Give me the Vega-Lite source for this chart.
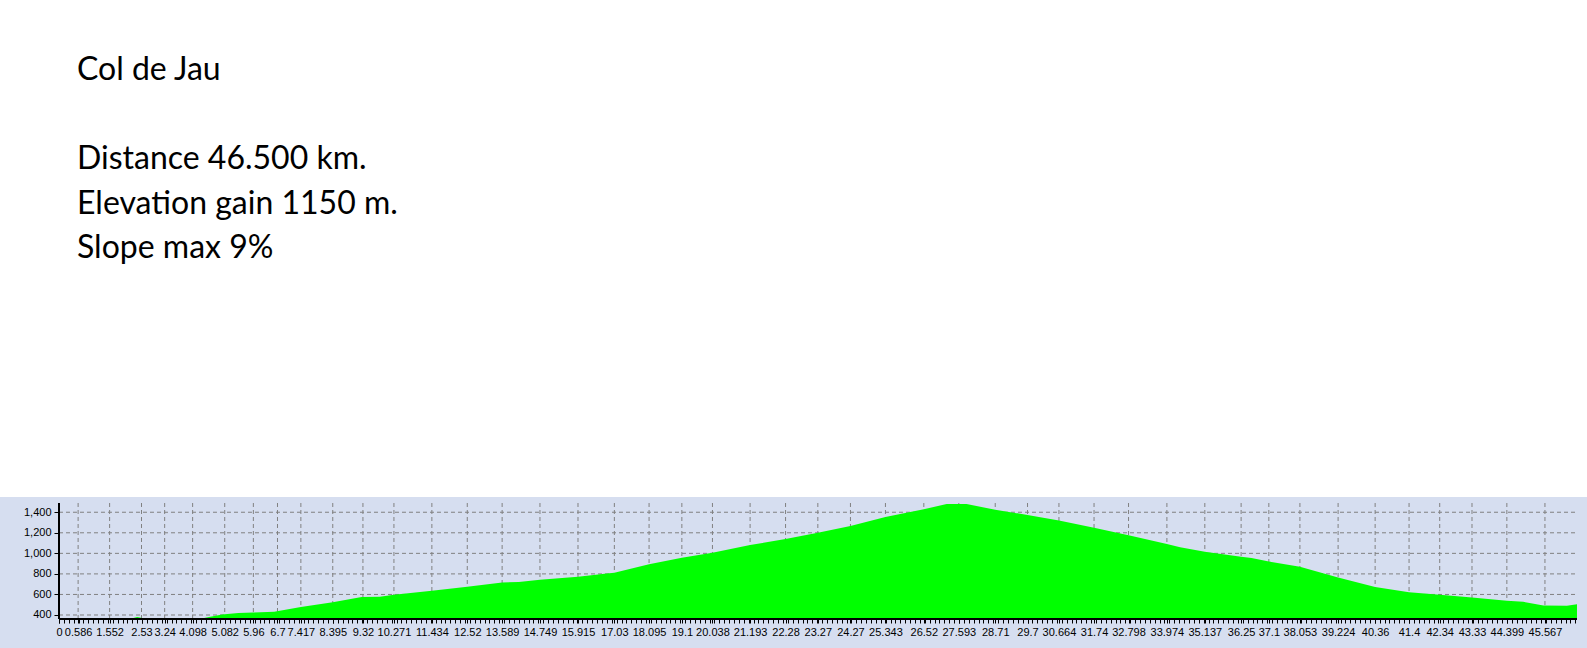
{
  "$schema": "https://vega.github.io/schema/vega-lite/v6.json",
  "width": 1587,
  "height": 151,
  "autosize": {"type": "none"},
  "padding": {"top": 497, "left": 0, "right": 0, "bottom": 0},
  "background": "white",
  "view": {"fill": "#D6DEF0", "stroke": null},
  "title": {
    "text": ["Col de Jau", "\u200b", "Distance 46.500 km.", "Elevation gain 1150 m.", "Slope max 9%"],
    "anchor": "start",
    "frame": "group",
    "orient": "top",
    "offset": 206.7,
    "baseline": "alphabetic",
    "dx": 77,
    "lineHeight": 44.6,
    "font": "Lato",
    "fontSize": 32,
    "fontWeight": "normal",
    "color": "#000000"
  },
  "resolve": {"axis": {"x": "independent", "y": "independent"}},
  "layer": [
    {
      "data": {"values": [{"v": 400}, {"v": 600}, {"v": 800}, {"v": 1000}, {"v": 1200}, {"v": 1400}]},
      "mark": {"type": "rule", "color": "#808080", "strokeDash": [4, 3], "strokeWidth": 1},
      "encoding": {
        "y": {
          "field": "v", "type": "quantitative",
          "scale": {"domain": [78.7, 1548.4], "nice": false, "zero": false},
          "axis": {
            "orient": "left", "offset": -59, "title": null,
            "values": [400, 600, 800, 1000, 1200, 1400], "format": ",d",
            "domain": false, "grid": false, "ticks": true, "tickSize": 5, "tickColor": "#000000", "tickWidth": 1,
            "labels": true, "labelPadding": 3, "labelFont": "Liberation Sans", "labelFontSize": 11, "labelColor": "#000000",
            "labelFlush": false, "labelOverlap": false, "zindex": 1
          }
        },
        "x": {"datum": 0, "type": "quantitative", "scale": {"domain": [-1.80926, 46.8568], "nice": false, "zero": false}, "axis": null},
        "x2": {"datum": 46.55}
      }
    },
    {
      "data": {"values": [
        {"d": 0.586}, {"d": 1.552}, {"d": 2.53}, {"d": 3.24}, {"d": 4.098}, {"d": 5.082}, {"d": 5.96}, {"d": 6.7}, {"d": 7.417}, {"d": 8.395},
        {"d": 9.32}, {"d": 10.271}, {"d": 11.434}, {"d": 12.52}, {"d": 13.589}, {"d": 14.749}, {"d": 15.915}, {"d": 17.03}, {"d": 18.095}, {"d": 19.1},
        {"d": 20.038}, {"d": 21.193}, {"d": 22.28}, {"d": 23.27}, {"d": 24.27}, {"d": 25.343}, {"d": 26.52}, {"d": 27.593}, {"d": 28.71}, {"d": 29.7},
        {"d": 30.664}, {"d": 31.74}, {"d": 32.798}, {"d": 33.974}, {"d": 35.137}, {"d": 36.25}, {"d": 37.1}, {"d": 38.053}, {"d": 39.224}, {"d": 40.36},
        {"d": 41.4}, {"d": 42.34}, {"d": 43.33}, {"d": 44.399}, {"d": 45.567}
      ]},
      "mark": {"type": "rule", "color": "#808080", "strokeDash": [4, 3], "strokeWidth": 1},
      "encoding": {
        "x": {"field": "d", "type": "quantitative", "scale": {"domain": [-1.80926, 46.8568], "nice": false, "zero": false}, "axis": null},
        "y": {"datum": 361, "type": "quantitative", "scale": {"domain": [78.7, 1548.4], "nice": false, "zero": false}, "axis": null},
        "y2": {"datum": 1490}
      }
    },
    {
      "data": {"values": [
        {"km": 0, "elev": 362}, {"km": 0.15, "elev": 366}, {"km": 0.35, "elev": 366}, {"km": 0.5, "elev": 362},
        {"km": 0.9, "elev": 362}, {"km": 1.05, "elev": 367}, {"km": 1.2, "elev": 362}, {"km": 1.7, "elev": 362},
        {"km": 1.85, "elev": 366}, {"km": 2.25, "elev": 368}, {"km": 2.4, "elev": 380}, {"km": 2.55, "elev": 370},
        {"km": 3.0, "elev": 366}, {"km": 3.4, "elev": 365}, {"km": 3.5, "elev": 361}, {"km": 4.3, "elev": 361},
        {"km": 4.6, "elev": 380}, {"km": 5.0, "elev": 405}, {"km": 5.5, "elev": 420}, {"km": 5.96, "elev": 424},
        {"km": 6.6, "elev": 432}, {"km": 7.417, "elev": 478}, {"km": 8.395, "elev": 523}, {"km": 9.28, "elev": 575},
        {"km": 9.84, "elev": 578}, {"km": 10.271, "elev": 598}, {"km": 11.434, "elev": 636}, {"km": 12.52, "elev": 676},
        {"km": 13.589, "elev": 716}, {"km": 14.1, "elev": 722}, {"km": 14.749, "elev": 742}, {"km": 15.915, "elev": 772},
        {"km": 16.8, "elev": 804}, {"km": 17.03, "elev": 812}, {"km": 18.095, "elev": 895}, {"km": 19.1, "elev": 958},
        {"km": 20.038, "elev": 1006}, {"km": 21.193, "elev": 1081}, {"km": 22.28, "elev": 1140}, {"km": 23.27, "elev": 1201},
        {"km": 24.27, "elev": 1266}, {"km": 25.343, "elev": 1354}, {"km": 26.52, "elev": 1430}, {"km": 27.22, "elev": 1481},
        {"km": 27.83, "elev": 1481}, {"km": 28.71, "elev": 1425}, {"km": 29.7, "elev": 1373}, {"km": 30.664, "elev": 1320},
        {"km": 31.74, "elev": 1250}, {"km": 32.798, "elev": 1175}, {"km": 33.974, "elev": 1090}, {"km": 34.38, "elev": 1060},
        {"km": 35.137, "elev": 1016}, {"km": 36.25, "elev": 967}, {"km": 36.57, "elev": 955}, {"km": 37.1, "elev": 920},
        {"km": 38.053, "elev": 870}, {"km": 39.224, "elev": 765}, {"km": 40.36, "elev": 672}, {"km": 41.4, "elev": 622},
        {"km": 42.34, "elev": 596}, {"km": 43.33, "elev": 571}, {"km": 44.399, "elev": 539}, {"km": 44.9, "elev": 528},
        {"km": 45.52, "elev": 492}, {"km": 46.24, "elev": 491}, {"km": 46.55, "elev": 505}
      ]},
      "mark": {"type": "area", "color": "#00FF00", "opacity": 1, "interpolate": "linear"},
      "encoding": {
        "x": {
          "field": "km", "type": "quantitative",
          "scale": {"domain": [-1.80926, 46.8568], "nice": false, "zero": false},
          "axis": {
            "orient": "bottom", "offset": -29, "title": null,
            "values": [0, 0.586, 1.552, 2.53, 3.24, 4.098, 5.082, 5.96, 6.7, 7.417, 8.395, 9.32, 10.271, 11.434, 12.52, 13.589, 14.749, 15.915, 17.03, 18.095, 19.1, 20.038, 21.193, 22.28, 23.27, 24.27, 25.343, 26.52, 27.593, 28.71, 29.7, 30.664, 31.74, 32.798, 33.974, 35.137, 36.25, 37.1, 38.053, 39.224, 40.36, 41.4, 42.34, 43.33, 44.399, 45.567],
            "format": ".6~g", "domain": false, "grid": false, "ticks": true, "tickSize": 4, "tickColor": "#000000", "tickWidth": 1,
            "labelPadding": 3, "labelFont": "Liberation Sans", "labelFontSize": 11, "labelColor": "#000000",
            "labelFlush": false, "labelOverlap": false, "zindex": 1
          }
        },
        "y": {
          "field": "elev", "type": "quantitative",
          "scale": {"domain": [78.7, 1548.4], "nice": false, "zero": false},
          "axis": null
        },
        "y2": {"datum": 361}
      }
    },
    {
      "data": {"values": [{"line": "y"}]},
      "mark": {"type": "rule", "color": "#000000", "strokeWidth": 2},
      "encoding": {
        "x": {"datum": 0, "type": "quantitative", "scale": {"domain": [-1.80926, 46.8568], "nice": false, "zero": false}, "axis": null},
        "y": {"datum": 361, "type": "quantitative", "scale": {"domain": [78.7, 1548.4], "nice": false, "zero": false}, "axis": null},
        "y2": {"datum": 1490}
      }
    },
    {
      "data": {"values": [{"line": "x"}]},
      "mark": {"type": "rule", "color": "#000000", "strokeWidth": 2},
      "encoding": {
        "y": {"datum": 361, "type": "quantitative", "scale": {"domain": [78.7, 1548.4], "nice": false, "zero": false}, "axis": null},
        "x": {
          "datum": 0, "type": "quantitative",
          "scale": {"domain": [-1.80926, 46.8568], "nice": false, "zero": false},
          "axis": {
            "orient": "bottom", "offset": -29, "title": null, "labels": false, "domain": false, "grid": false,
            "ticks": true, "tickSize": 4, "tickColor": "#000000", "tickWidth": 1, "zindex": 1,
            "values": [0,0.15,0.3,0.45,0.6,0.75,0.9,1.05,1.2,1.35,1.5,1.65,1.8,1.95,2.1,2.25,2.4,2.55,2.7,2.85,
              3,3.15,3.3,3.45,3.6,3.75,3.9,4.05,4.2,4.35,4.5,4.65,4.8,4.95,5.1,5.25,5.4,5.55,5.7,5.85,
              6,6.15,6.3,6.45,6.6,6.75,6.9,7.05,7.2,7.35,7.5,7.65,7.8,7.95,8.1,8.25,8.4,8.55,8.7,8.85,
              9,9.15,9.3,9.45,9.6,9.75,9.9,10.05,10.2,10.35,10.5,10.65,10.8,10.95,11.1,11.25,11.4,11.55,11.7,11.85,
              12,12.15,12.3,12.45,12.6,12.75,12.9,13.05,13.2,13.35,13.5,13.65,13.8,13.95,14.1,14.25,14.4,14.55,14.7,14.85,
              15,15.15,15.3,15.45,15.6,15.75,15.9,16.05,16.2,16.35,16.5,16.65,16.8,16.95,17.1,17.25,17.4,17.55,17.7,17.85,
              18,18.15,18.3,18.45,18.6,18.75,18.9,19.05,19.2,19.35,19.5,19.65,19.8,19.95,20.1,20.25,20.4,20.55,20.7,20.85,
              21,21.15,21.3,21.45,21.6,21.75,21.9,22.05,22.2,22.35,22.5,22.65,22.8,22.95,23.1,23.25,23.4,23.55,23.7,23.85,
              24,24.15,24.3,24.45,24.6,24.75,24.9,25.05,25.2,25.35,25.5,25.65,25.8,25.95,26.1,26.25,26.4,26.55,26.7,26.85,
              27,27.15,27.3,27.45,27.6,27.75,27.9,28.05,28.2,28.35,28.5,28.65,28.8,28.95,29.1,29.25,29.4,29.55,29.7,29.85,
              30,30.15,30.3,30.45,30.6,30.75,30.9,31.05,31.2,31.35,31.5,31.65,31.8,31.95,32.1,32.25,32.4,32.55,32.7,32.85,
              33,33.15,33.3,33.45,33.6,33.75,33.9,34.05,34.2,34.35,34.5,34.65,34.8,34.95,35.1,35.25,35.4,35.55,35.7,35.85,
              36,36.15,36.3,36.45,36.6,36.75,36.9,37.05,37.2,37.35,37.5,37.65,37.8,37.95,38.1,38.25,38.4,38.55,38.7,38.85,
              39,39.15,39.3,39.45,39.6,39.75,39.9,40.05,40.2,40.35,40.5,40.65,40.8,40.95,41.1,41.25,41.4,41.55,41.7,41.85,
              42,42.15,42.3,42.45,42.6,42.75,42.9,43.05,43.2,43.35,43.5,43.65,43.8,43.95,44.1,44.25,44.4,44.55,44.7,44.85,
              45,45.15,45.3,45.45,45.6,45.75,45.9,46.05,46.2,46.35,46.5]
          }
        },
        "x2": {"datum": 46.55}
      }
    }
  ]
}
